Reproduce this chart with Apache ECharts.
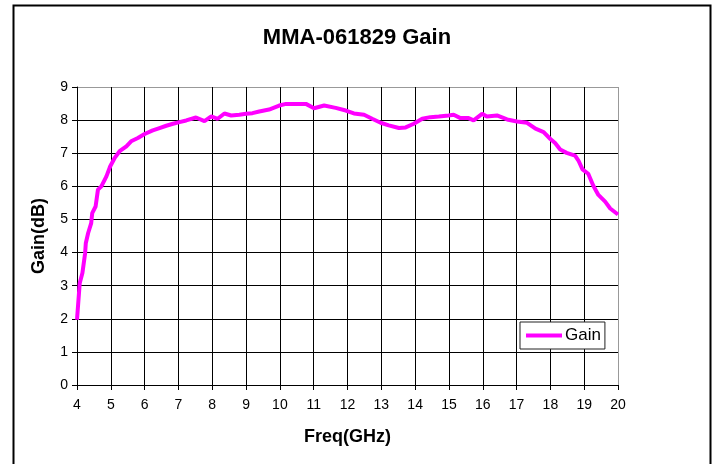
<!DOCTYPE html>
<html>
<head>
<meta charset="utf-8">
<script src="https://cdn.jsdelivr.net/npm/echarts@6/dist/echarts.min.js"></script>
<style>html,body{margin:0;padding:0;background:#fff;}#c{width:714px;height:464px;}</style>
</head>
<body>
<div id="c"></div>
<script>
const titleText = 'MMA-061829 Gain';
const seriesName = 'Gain';
const xName = 'Freq(GHz)';
const yName = 'Gain(dB)';
const freq = [4.00,4.08,4.16,4.24,4.26,4.33,4.42,4.45,4.55,4.62,
  4.72,4.87,4.98,5.11,5.26,5.46,5.60,5.80,6.00,6.24,
  6.44,6.64,6.84,7.03,7.23,7.52,7.77,7.97,8.16,8.36,
  8.56,8.80,9.00,9.19,9.39,9.68,9.98,10.18,10.77,11.01,
  11.31,11.65,11.95,12.19,12.49,12.73,12.98,13.22,13.52,13.72,
  13.96,14.21,14.45,14.70,14.99,15.14,15.34,15.58,15.73,15.98,
  16.12,16.42,16.72,17.01,17.31,17.56,17.80,18.00,18.14,18.29,
  18.48,18.73,18.83,18.95,19.12,19.27,19.42,19.62,19.77,20.00];
const gain = [1.97,3.07,3.38,3.98,4.28,4.59,4.89,5.19,5.39,5.90,
  6.00,6.30,6.60,6.85,7.06,7.21,7.36,7.46,7.58,7.69,
  7.76,7.83,7.89,7.94,7.99,8.08,7.97,8.11,8.04,8.20,
  8.14,8.16,8.19,8.21,8.26,8.32,8.44,8.49,8.49,8.36,
  8.44,8.37,8.29,8.20,8.16,8.04,7.92,7.84,7.76,7.78,
  7.89,8.04,8.09,8.11,8.14,8.16,8.06,8.06,7.99,8.19,
  8.11,8.14,8.02,7.96,7.92,7.74,7.64,7.43,7.31,7.11,
  7.01,6.93,6.78,6.51,6.38,6.02,5.74,5.54,5.33,5.15];
const xMin = 4, xMax = 20, xStep = 1;
const yMin = 0, yMax = 9, yStep = 1;

const font = '"Liberation Sans", Arial, sans-serif';
const xLines = Array.from({length: (xMax - xMin) / xStep + 1}, (_, i) => i === (xMax - xMin) / xStep ? '#999' : '#000');
const yLines = Array.from({length: (yMax - yMin) / yStep + 1}, (_, i) => i === (yMax - yMin) / yStep ? '#999' : '#000');

const chart = echarts.init(document.getElementById('c'), null, {renderer: 'canvas'});
chart.setOption({
  backgroundColor: '#fff',
  animation: false,
  title: {
    text: titleText, left: 'center', top: 22,
    textStyle: {fontFamily: font, fontWeight: 'bold', fontSize: 22, color: '#000'}
  },
  legend: {
    data: [seriesName], left: 520, top: 322,
    orient: 'vertical',
    backgroundColor: '#fff', borderColor: '#222', borderWidth: 1,
    padding: [5, 4, 5, 6], itemWidth: 36, itemHeight: 4, itemGap: 0,
    icon: 'rect',
    textStyle: {fontFamily: font, fontSize: 17, color: '#000', padding: [0, 0, 0, -2]}
  },
  grid: {left: 77, top: 87, right: 96, bottom: 79, containLabel: false},
  xAxis: {
    type: 'value', min: xMin, max: xMax, interval: xStep,
    name: xName, nameLocation: 'middle', nameGap: 43,
    nameTextStyle: {fontFamily: font, fontWeight: 'bold', fontSize: 18, color: '#000'},
    axisLine: {show: true, lineStyle: {color: '#000', width: 1}},
    axisTick: {show: true, inside: false, length: 5, lineStyle: {color: '#000'}},
    axisLabel: {fontFamily: font, fontSize: 14, color: '#000', margin: 13},
    splitLine: {show: true, lineStyle: {color: xLines, width: 1}}
  },
  yAxis: {
    type: 'value', min: yMin, max: yMax, interval: yStep,
    name: yName, nameLocation: 'middle', nameGap: 29,
    nameTextStyle: {fontFamily: font, fontWeight: 'bold', fontSize: 18, color: '#000'},
    axisLine: {show: true, lineStyle: {color: '#000', width: 1}},
    axisTick: {show: true, inside: false, length: 5, lineStyle: {color: '#000'}},
    axisLabel: {fontFamily: font, fontSize: 14, color: '#000', margin: 9},
    splitLine: {show: true, lineStyle: {color: yLines, width: 1}}
  },
  series: [{
    name: seriesName, type: 'line',
    data: freq.map((f, i) => [f, gain[i]]),
    showSymbol: false, symbol: 'none', smooth: false,
    lineStyle: {color: '#ff00ff', width: 4},
    itemStyle: {color: '#ff00ff'}
  }],
  graphic: [{
    type: 'rect', left: 11, top: 3, silent: true,
    shape: {width: 697, height: 470},
    style: {fill: 'none', stroke: '#000', lineWidth: 2}
  }]
});
</script>
</body>
</html>
